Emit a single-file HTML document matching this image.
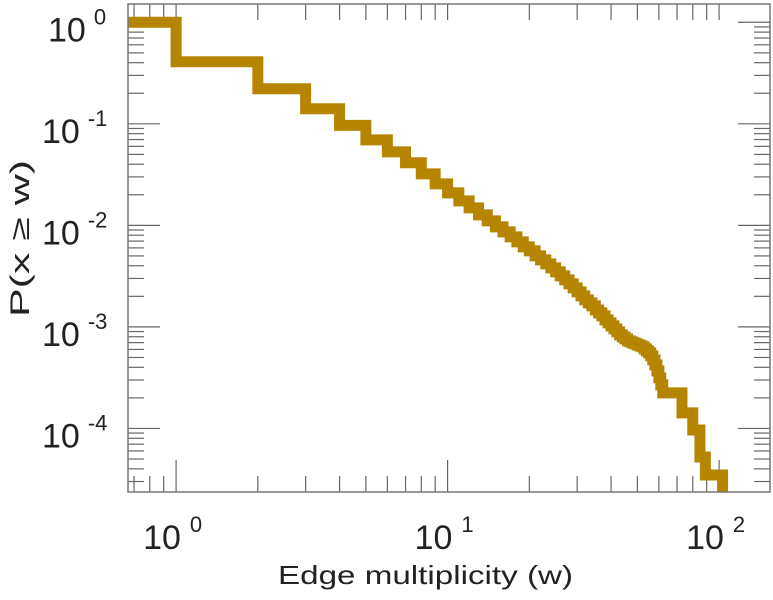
<!DOCTYPE html>
<html><head><meta charset="utf-8"><style>
html,body{margin:0;padding:0;background:#fff;}
svg{display:block;font-family:"Liberation Sans",sans-serif;}
</style></head><body>
<svg id="chart" width="773" height="600" viewBox="0 0 773 600" xmlns="http://www.w3.org/2000/svg">
<defs><clipPath id="pc"><rect x="128" y="4" width="642" height="488"/></clipPath></defs>
<g id="grid-ticks"></g>
<path id="series" fill="none" stroke="#b58500" stroke-width="11" stroke-linejoin="miter" clip-path="url(#pc)"/>
<rect x="128" y="4" width="642" height="488" fill="none" stroke="#777" stroke-width="1.5"/>
<g id="labels" fill="#222"></g>
<text x="278" y="584" font-size="26" textLength="295" lengthAdjust="spacingAndGlyphs" fill="#222">Edge multiplicity (w)</text>
<text transform="translate(29,317) rotate(-90)" font-size="27" textLength="157" lengthAdjust="spacingAndGlyphs" fill="#222">P(x ≥ w)</text>
</svg>
<script>
const wValues = [1,2,3,4,5,6,7,8,9,10,11,12,13,14,15,16,17,18,19,20,21,22,23,24,25,26,27,28,29,30,31,32,33,34,35,36,37,38,39,40,41,42,43,44,45,46,47,48,49,50,51,52,53,54,55,56,57,58,59,60,61,62,73,80,85,89];
const logP = [-0.389,-0.655,-0.852,-1.015,-1.158,-1.276,-1.384,-1.493,-1.591,-1.680,-1.759,-1.828,-1.897,-1.956,-2.015,-2.064,-2.113,-2.163,-2.212,-2.251,-2.300,-2.340,-2.379,-2.419,-2.458,-2.497,-2.537,-2.576,-2.616,-2.655,-2.695,-2.734,-2.764,-2.793,-2.833,-2.862,-2.892,-2.931,-2.961,-2.990,-3.020,-3.049,-3.079,-3.099,-3.118,-3.138,-3.148,-3.158,-3.167,-3.177,-3.187,-3.197,-3.217,-3.236,-3.256,-3.286,-3.325,-3.374,-3.433,-3.502,-3.571,-3.650,-3.847,-4.015,-4.281,-4.458];
const wEnd = 103;
const xTickExps = [0,1,2];
const yTickExps = [0,-1,-2,-3,-4];

const L=128,R=770,T=4,B=492;
const xMinLog=Math.log10(0.665), xMaxLog=Math.log10(154);
const yMaxLog=0.18, yMinLog=-4.626;
function xs(v){return L+(Math.log10(v)-xMinLog)/(xMaxLog-xMinLog)*(R-L);}
function ys(p){return T+(yMaxLog-Math.log10(p))/(yMaxLog-yMinLog)*(B-T);}

const NS="http://www.w3.org/2000/svg";
let d="M"+L+","+ys(1)+" H"+xs(wValues[0]);
for(let i=0;i<wValues.length;i++){
  d+=" V"+ys(Math.pow(10,logP[i]));
  const nx = i+1<wValues.length ? wValues[i+1] : wEnd;
  d+=" H"+xs(nx);
}
d+=" V"+(B+20);
document.getElementById('series').setAttribute('d',d);

const tg=document.getElementById('grid-ticks');
function line(x1,y1,x2,y2,name){
  const l=document.createElementNS(NS,'line');
  l.setAttribute('x1',x1);l.setAttribute('y1',y1);l.setAttribute('x2',x2);l.setAttribute('y2',y2);
  l.setAttribute('stroke','#666');l.setAttribute('stroke-width','1.2');
  
  
  tg.appendChild(l);
}
for(let e=-1;e<=2;e++){
  for(let m=1;m<10;m++){
    const v=m*Math.pow(10,e); const x=xs(v);
    if(x<L+1||x>R-1) continue;
    const len = m===1?32:16;
    line(x,B,x,B-len,'x-tick');
    line(x,T,x,T+16,'x-tick-top');
  }
}
for(let e=-5;e<=0;e++){
  for(let m=1;m<10;m++){
    const v=m*Math.pow(10,e); const y=ys(v);
    if(y<T+1||y>B-1) continue;
    const len = m===1?32:16;
    line(L,y,L+len,y,'y-tick');
    line(R,y,R-len,y,'y-tick-right');
  }
}
const lg=document.getElementById('labels');
function label(x,y,exp,name,supDx){
  const t=document.createElementNS(NS,'text');
  t.setAttribute('x',x);t.setAttribute('y',y);t.setAttribute('font-size','34');
  
  
  const s=document.createElementNS(NS,'tspan');
  s.setAttribute('font-size','22');s.setAttribute('dy','-17');s.setAttribute('dx',supDx);
  s.textContent=String(exp);
  t.appendChild(document.createTextNode('10'));
  t.appendChild(s);
  lg.appendChild(t);
}
xTickExps.forEach(e=>label(xs(Math.pow(10,e))-33,549,e,'x-tick-label','9'));
yTickExps.forEach(e=>label(e<0?42:48,ys(Math.pow(10,e))+19,e,'y-tick-label','8'));
</script>
</body></html>
